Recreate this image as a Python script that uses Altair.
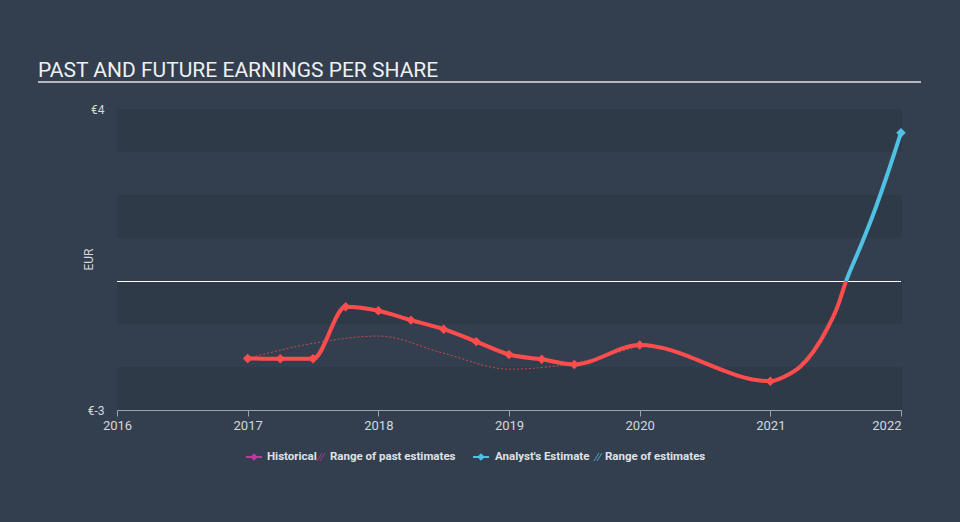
import altair as alt
import pandas as pd

# Historical EPS (diamond markers)
hist_x = [2017.0, 2017.25, 2017.5, 2017.75, 2018.0, 2018.25, 2018.5, 2018.75, 2019.0, 2019.25, 2019.5, 2020.0, 2021.0]
hist_y = [-1.80, -1.81, -1.81, -0.60, -0.69, -0.91, -1.12, -1.41, -1.71, -1.82, -1.94, -1.49, -2.33]

# Curve continuing after last report, below zero
tail_x = [2021.11, 2021.23, 2021.33, 2021.43, 2021.51]
tail_y = [-2.22, -1.99, -1.64, -1.14, -0.63]

# Analyst's estimate (above zero, blue)
est_x = [2021.58, 2021.69, 2021.79, 2021.89, 2022.0]
est_y = [0.0, 0.80, 1.57, 2.43, 3.45]

# Range of past estimates (thin dotted)
past_x = [2017.0, 2017.5, 2018.0, 2018.5, 2019.0, 2019.5, 2020.0]
past_y = [-1.80, -1.45, -1.28, -1.68, -2.05, -1.91, -1.51]

band_lo = [3, 1, -1, -3]
band_hi = [4, 2, 0, -2]

year_ticks = [2016, 2017, 2018, 2019, 2020, 2021, 2022]

BG = "#333f4e"
BAND = "#2e3a48"
RED = "#ff4c4c"
BLUE = "#4fc1e3"
PURPLE = "#c0399f"
TXT = "#d4d8de"

W, H = 784, 301

xs = alt.Scale(domain=[2016, 2022], nice=False, zero=False)
ys = alt.Scale(domain=[-3, 4], nice=False, zero=False)

bands = alt.Chart(pd.DataFrame({"lo": band_lo, "hi": band_hi})).mark_rect(color=BAND).encode(
    x=alt.value(0), x2=alt.value(W + 1),
    y=alt.Y("hi:Q", scale=ys, axis=alt.Axis(
        values=[-3, 4], labelExpr="'€' + datum.value", title="EUR",
        grid=False, domain=False, ticks=False, labelColor=TXT, labelFontSize=12,
        labelFont="Roboto", titleFont="Roboto", titleFontWeight="normal",
        titleColor=TXT, titleFontSize=12, labelPadding=13,
        titleX=-29, titleY=150, titleAngle=270, titleAlign="center", titleBaseline="middle")),
    y2="lo:Q",
)

zero = alt.Chart(pd.DataFrame({"v": [0]})).mark_rule(color="#ffffff", strokeWidth=1, yOffset=0.5).encode(
    y=alt.Y("v:Q", scale=ys), x=alt.value(0), x2=alt.value(W)
)

past_df = pd.DataFrame({"x": past_x, "y": past_y})
past = alt.Chart(past_df).mark_line(color=RED, strokeWidth=1, strokeDash=[2, 2], opacity=0.75,
                                    interpolate="monotone").encode(
    x=alt.X("x:Q", scale=xs), y=alt.Y("y:Q", scale=ys)
)

all_x = hist_x + tail_x + est_x
all_y = hist_y + tail_y + est_y
ymax, ymin = max(all_y), min(all_y)
frac = ymax / (ymax - ymin)  # position of zero within the line's bounding box
grad = {
    "gradient": "linear", "x1": 0, "y1": 0, "x2": 0, "y2": 1,
    "stops": [
        {"offset": 0, "color": BLUE},
        {"offset": frac, "color": BLUE},
        {"offset": frac, "color": RED},
        {"offset": 1, "color": RED},
    ],
}

line_df = pd.DataFrame({"x": all_x, "y": all_y})
main_line = alt.Chart(line_df).mark_line(stroke=grad, strokeWidth=4, interpolate="monotone").encode(
    x=alt.X("x:Q", scale=xs, axis=alt.Axis(
        values=year_ticks, format="d", title=None, grid=False, labelFlush=False,
        labelAlign=alt.ConditionalAxisLabelAlign(
            condition={"test": "datum.value == 2022", "value": "right"}, value="center"),
        domainColor="#9aa4b1", tickColor="#9aa4b1", tickSize=6, labelColor=TXT,
        labelFontSize=13, labelFont="Roboto", labelPadding=3)),
    y=alt.Y("y:Q", scale=ys),
)

hist_df = pd.DataFrame({"x": hist_x, "y": hist_y})
hist_pts = alt.Chart(hist_df).mark_point(shape="diamond", filled=True, color=RED, size=90, opacity=1).encode(
    x=alt.X("x:Q", scale=xs), y=alt.Y("y:Q", scale=ys)
)

est_df = pd.DataFrame({"x": est_x, "y": est_y})
est_pt = alt.Chart(est_df.tail(1)).mark_point(shape="diamond", filled=True, color=BLUE, size=90, opacity=1).encode(
    x=alt.X("x:Q", scale=xs), y=alt.Y("y:Q", scale=ys)
)

# Title and underline (outside plot area)
title = alt.Chart(pd.DataFrame({"t": ["PAST AND FUTURE EARNINGS PER SHARE"]})).mark_text(
    align="left", baseline="alphabetic", fontSize=21, font="Roboto", color="#eef0f2"
).encode(text="t:N", x=alt.value(-79), y=alt.value(-32))

title_rule = alt.Chart(pd.DataFrame({"v": [0]})).mark_rule(color="#b4b9c0", strokeWidth=2).encode(
    x=alt.value(-79), x2=alt.value(804), y=alt.value(-27)
)

# Legend
LY = 348
leg_txt = pd.DataFrame({
    "t": ["Historical", "Range of past estimates", "Analyst's Estimate", "Range of estimates"],
    "px": [150, 213, 378, 488],
})
legend_text = alt.Chart(leg_txt).mark_text(
    align="left", baseline="middle", fontSize=11.5, font="Roboto", fontWeight="bold", color="#dfe2e6"
).encode(text="t:N", x=alt.X("px:Q", scale=None), y=alt.value(LY))

leg_pts = pd.DataFrame({"px": [137, 364], "c": [PURPLE, BLUE]})
legend_pts = alt.Chart(leg_pts).mark_point(shape="diamond", filled=True, size=60, opacity=1).encode(
    x=alt.X("px:Q", scale=None), y=alt.value(LY), color=alt.Color("c:N", scale=None)
)
leg_bars = pd.DataFrame({"px": [129, 356], "px2": [145, 372], "c": [PURPLE, BLUE]})
legend_bars = alt.Chart(leg_bars).mark_rule(strokeWidth=2).encode(
    x=alt.X("px:Q", scale=None), x2="px2:Q", y=alt.value(LY), color=alt.Color("c:N", scale=None)
)
leg_hatch = pd.DataFrame({"px": [200, 203, 477, 480], "c": [PURPLE, PURPLE, BLUE, BLUE]})
legend_hatch = alt.Chart(leg_hatch).mark_rule(strokeWidth=1, opacity=0.8).encode(
    x=alt.X("px:Q", scale=None), x2=alt.X2("px2:Q"), y=alt.value(LY + 4), y2=alt.value(LY - 4),
    color=alt.Color("c:N", scale=None)
).transform_calculate(px2="datum.px + 5")

chart = alt.layer(
    bands, zero, past, main_line, hist_pts, est_pt,
    title, title_rule, legend_bars, legend_pts, legend_hatch, legend_text
).properties(
    width=W, height=H, background=BG,
    autosize=alt.AutoSizeParams(type="none"),
    padding={"left": 117, "top": 109, "right": 59, "bottom": 112},
).configure_view(stroke=None, fill=BG)

chart.save("out.html", embed_options={"renderer": "svg", "actions": False})
